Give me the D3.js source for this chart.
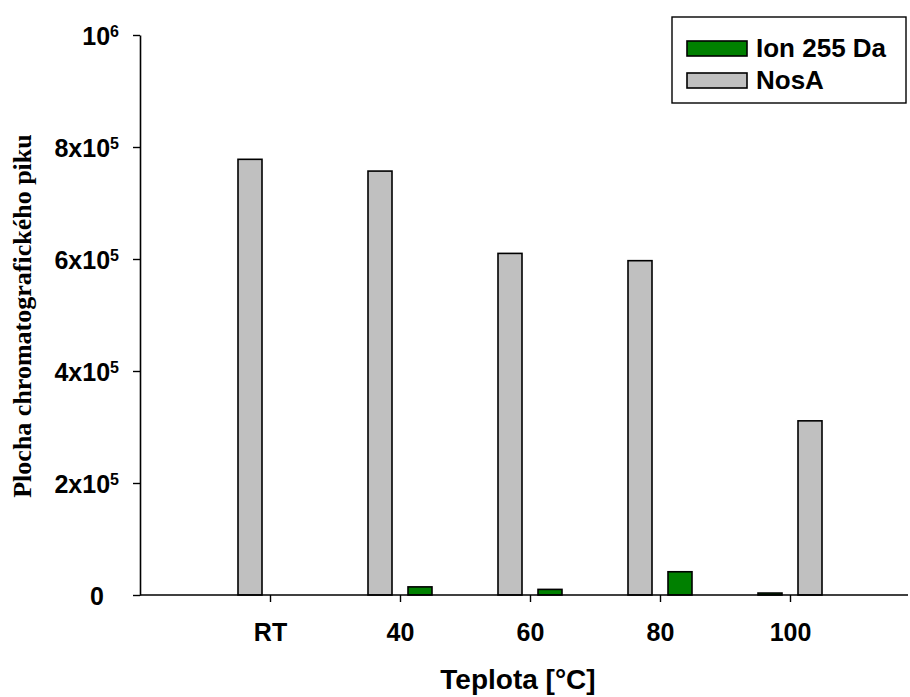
<!DOCTYPE html>
<html><head><meta charset="utf-8">
<script src="https://cdn.jsdelivr.net/npm/d3@7"></script>
<style>body{margin:0;background:#fff}svg{display:block}</style>
</head><body>
<script>
const categories = ["RT", "40", "60", "80", "100"];
const nosA = [778000, 757000, 610000, 597000, 311000];
const ion255 = [0, 14500, 10000, 41500, 3500];
// series order within each category group, as in the original figure
const seriesOrder = [
  ["NosA", "Ion 255 Da"], ["NosA", "Ion 255 Da"], ["NosA", "Ion 255 Da"],
  ["NosA", "Ion 255 Da"], ["Ion 255 Da", "NosA"]
];
const yTicks = [0, 200000, 400000, 600000, 800000, 1000000];
const yTickLabels = [["0", ""], ["2x10", "5"], ["4x10", "5"], ["6x10", "5"], ["8x10", "5"], ["10", "6"]];
const seriesNames = ["Ion 255 Da", "NosA"];
const seriesColors = {"Ion 255 Da": "#008000", "NosA": "#c0c0c0"};
const seriesValues = {"Ion 255 Da": ion255, "NosA": nosA};

const W = 910, H = 697;
const SANS = "Liberation Sans, Arial, sans-serif";
const svg = d3.select("body").append("svg").attr("width", W).attr("height", H);
const axL = 140, axR = 908, axT = 35, axB = 595;

const y = d3.scaleLinear().domain([0, 1000000]).range([axB, axT]);
const x = d3.scalePoint().domain(categories).range([270, 790]);
const sub = d3.scaleBand().domain([0, 1]).range([-32, 32]).paddingInner(0.4).paddingOuter(0);

// bars
const bars = [];
categories.forEach((c, i) => {
  seriesOrder[i].forEach((s, j) => {
    bars.push({cat: c, series: s, slot: j, value: seriesValues[s][i]});
  });
});
svg.append("g").selectAll("rect").data(bars.filter(d => d.value > 0)).join("rect")
  .attr("x", d => x(d.cat) + sub(d.slot))
  .attr("width", sub.bandwidth())
  .attr("y", d => y(d.value))
  .attr("height", d => axB - y(d.value))
  .attr("fill", d => seriesColors[d.series])
  .attr("stroke", "#000").attr("stroke-width", 1.6);

// y axis
const yAxis = svg.append("g").attr("transform", `translate(${axL},0)`)
  .call(d3.axisLeft(y).tickValues(yTicks).tickSize(7).tickSizeOuter(0).tickFormat(""));
yAxis.select(".domain").attr("stroke-width", 1.6);
yAxis.selectAll(".tick line").attr("stroke-width", 1.4);
yAxis.selectAll(".tick").each(function(d, i) {
  const hasSup = !!yTickLabels[i][1];
  const t = d3.select(this).append("text")
    .attr("x", hasSup ? -21 : -36).attr("dy", "0.36em").attr("text-anchor", "end")
    .attr("fill", "#000").style("font-family", SANS)
    .style("font-weight", "bold").style("font-size", "25px");
  t.append("tspan").text(yTickLabels[i][0]);
  if (hasSup) {
    t.append("tspan").attr("dy", "-0.5em").style("font-size", "16px").text(yTickLabels[i][1]);
  }
});

// x axis
svg.append("line").attr("x1", axL).attr("x2", axR).attr("y1", axB).attr("y2", axB)
  .attr("stroke", "#000").attr("stroke-width", 1.6);
const xAxis = svg.append("g").attr("transform", `translate(0,${axB})`)
  .call(d3.axisBottom(x).tickSize(7).tickSizeOuter(0).tickPadding(0));
xAxis.select(".domain").remove();
xAxis.selectAll(".tick line").attr("stroke-width", 1.4);
xAxis.selectAll(".tick text").attr("fill", "#000").attr("dy", null).attr("y", 46)
  .style("font-family", SANS).style("font-weight", "bold").style("font-size", "25px");

// axis titles
svg.append("text").attr("x", 518).attr("y", 689).attr("text-anchor", "middle")
  .style("font-family", SANS).style("font-weight", "bold").style("font-size", "28px")
  .text("Teplota [°C]");
svg.append("text").attr("transform", "translate(31,316) rotate(-90)").attr("text-anchor", "middle")
  .style("font-family", "Liberation Serif, Times New Roman, serif").style("font-weight", "bold").style("font-size", "26px")
  .text("Plocha chromatografického piku");

// legend
const lg = svg.append("g");
lg.append("rect").attr("x", 672).attr("y", 17).attr("width", 234).attr("height", 86)
  .attr("fill", "#fff").attr("stroke", "#000").attr("stroke-width", 1.4);
seriesNames.forEach((s, i) => {
  lg.append("rect").attr("x", 687).attr("y", 41 + i * 32).attr("width", 60).attr("height", 15)
    .attr("fill", seriesColors[s]).attr("stroke", "#000").attr("stroke-width", 1.6);
  lg.append("text").attr("x", 756).attr("y", 57 + i * 32)
    .style("font-family", SANS).style("font-weight", "bold").style("font-size", "26px")
    .text(s);
});
</script>
</body></html>
